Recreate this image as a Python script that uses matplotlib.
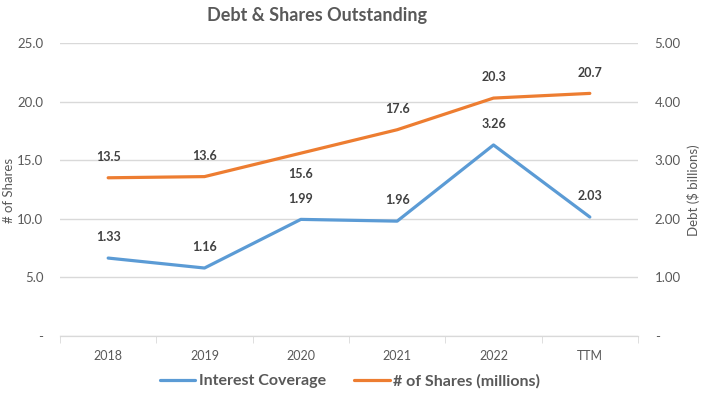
import matplotlib
matplotlib.use("Agg")
import matplotlib.pyplot as plt
from matplotlib.ticker import FixedLocator

# dados
anos = ["2018", "2019", "2020", "2021", "2022", "TTM"]
acoes = [13.5, 13.6, 15.6, 17.6, 20.3, 20.7]        # # of Shares (millions), eixo esquerdo
cobertura = [1.33, 1.16, 1.99, 1.96, 3.26, 2.03]   # Interest Coverage, eixo direito
ticks_esq = [0, 5, 10, 15, 20, 25]
ticks_dir = [0, 1, 2, 3, 4, 5]

AZUL = "#5B9BD5"
LARANJA = "#ED7D31"
CINZA = "#595959"
ESCURO = "#404040"
GRADE = "#D9D9D9"

plt.rcParams["font.family"] = ["Lato", "DejaVu Sans"]

W, H = 705, 394
fig = plt.figure(figsize=(W / 100, H / 100), dpi=100)
ax = fig.add_axes([60 / W, 1 - 336 / H, (638 - 60) / W, (336 - 43) / H])
ax2 = ax.twinx()

x = list(range(len(anos)))
l1, = ax2.plot(x, cobertura, color=AZUL, lw=2.3, solid_capstyle="round", zorder=3)
l2, = ax.plot(x, acoes, color=LARANJA, lw=2.3, solid_capstyle="round", zorder=3)

ax.set_xlim(-0.5, len(anos) - 0.5)
ax.set_ylim(0, 25)
ax2.set_ylim(0, 5)

ax.set_yticks(ticks_esq)
ax.set_yticklabels(["-" if v == 0 else f"{v:.1f}" for v in ticks_esq])
ax2.set_yticks(ticks_dir)
ax2.set_yticklabels(["-" if v == 0 else f"{v:.2f}" for v in ticks_dir])
ax.grid(axis="y", color=GRADE, lw=1)
ax.set_axisbelow(True)

ax.set_xticks(x)
ax.set_xticklabels(anos)
ax.xaxis.set_minor_locator(FixedLocator([i - 0.5 for i in range(len(anos) + 1)]))
ax.tick_params(axis="x", which="major", length=0, pad=10, labelsize=9, labelcolor=CINZA)
ax.tick_params(axis="x", which="minor", length=5, color=GRADE)
ax.tick_params(axis="y", length=0, pad=12, labelsize=9.5, labelcolor=CINZA)
ax2.tick_params(axis="y", length=0, pad=12, labelsize=9.5, labelcolor=CINZA)

for a in (ax, ax2):
    for lado in ["top", "left", "right"]:
        a.spines[lado].set_visible(False)
    a.spines["bottom"].set_color(GRADE)

# títulos dos eixos, posicionados na figura
fig.text(9 / W, 1 - 190 / H, "# of Shares", rotation=90, ha="center", va="center",
         color=CINZA, fontsize=9.5)
fig.text(694 / W, 1 - 190 / H, "Debt ($ billions)", rotation=90, ha="center", va="center",
         color=CINZA, fontsize=9.5)

# rótulos de dados
for i, v in enumerate(acoes):
    dy = -15 if anos[i] == "2020" else 15
    ax.annotate(f"{v:.1f}", (i, v), xytext=(0, dy), textcoords="offset points",
                ha="center", va="center", fontsize=9, fontweight="bold", color=ESCURO)
for i, v in enumerate(cobertura):
    ax2.annotate(f"{v:.2f}", (i, v), xytext=(0, 15), textcoords="offset points",
                 ha="center", va="center", fontsize=9, fontweight="bold", color=ESCURO)

fig.text(317 / W, 1 - 16 / H, "Debt & Shares Outstanding", ha="center", va="center",
         fontsize=13, fontweight="bold", color=CINZA)

fig.legend([l1, l2], ["Interest Coverage", "# of Shares (millions)"], loc="center",
           bbox_to_anchor=(350 / W, 1 - 381 / H), ncol=2, frameon=False,
           handlelength=2.2, columnspacing=1.8, handletextpad=0.2,
           prop={"size": 11.5, "weight": "bold"}, labelcolor=CINZA)

fig.savefig("out.png", dpi=100)
